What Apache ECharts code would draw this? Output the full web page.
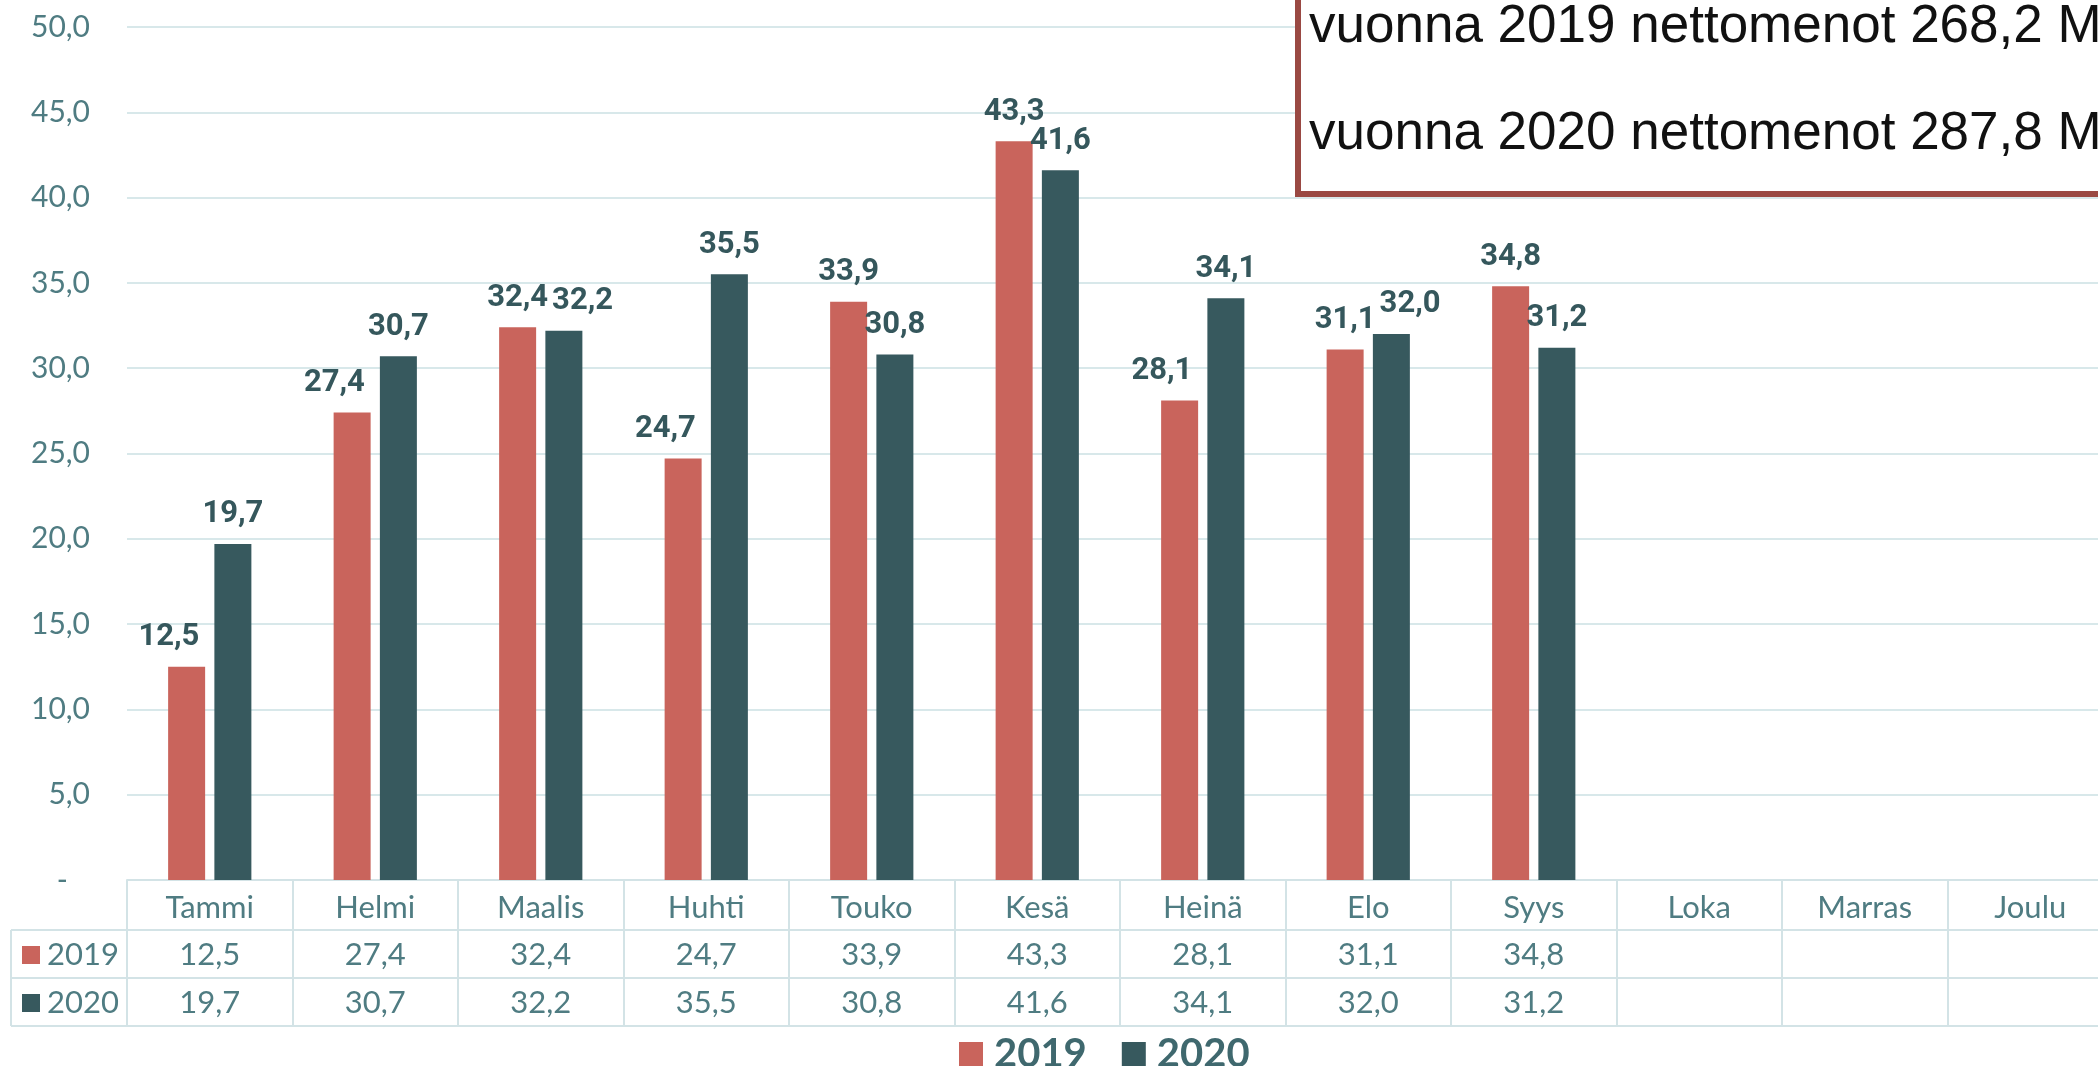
<!DOCTYPE html>
<html>
<head>
<meta charset="utf-8">
<script src="https://cdn.jsdelivr.net/npm/echarts@6/dist/echarts.min.js"></script>
<style>
  html, body { margin: 0; padding: 0; background: #fff; }
  #chart { width: 2098px; height: 1066px; }
</style>
</head>
<body>
<div id="chart"></div>
<script>
// kuukaudet
const months = ["Tammi", "Helmi", "Maalis", "Huhti", "Touko", "Kesä", "Heinä", "Elo", "Syys", "Loka", "Marras", "Joulu"];
const values2019 = [12.5, 27.4, 32.4, 24.7, 33.9, 43.3, 28.1, 31.1, 34.8];
const values2020 = [19.7, 30.7, 32.2, 35.5, 30.8, 41.6, 34.1, 32.0, 31.2];
const seriesNames = ["2019", "2020"];
const yTicks = [0, 50, 5]; // min, max, interval
const noteLines = ["vuonna 2019 nettomenot 268,2 M€", "vuonna 2020 nettomenot 287,8 M€"];

const RED = "#c9645c";
const TEAL = "#37595e";
const TEXT = "#4f7c82";
const LINE = "#d3e3e6";
const FONT = "Lato, 'Noto Sans', sans-serif";
const NOTE_FONT = "53px 'Liberation Sans', Arial, sans-serif";
const LABEL_DIST = 14;

const fmt = (v) => (v === undefined || v === null ? "" : v.toFixed(1).replace(".", ","));

// push value labels sideways when they would hit the neighbour bar or label (like Excel does)
const labelShift = (params) => {
  const i = params.dataIndex;
  const s = params.seriesIndex;
  const r = params.rect;
  const L = params.labelRect;
  const w = r.width;
  const gap = w * 0.25;
  const top = Math.min(r.y, r.y + r.height);
  const base = Math.max(r.y, r.y + r.height);
  const value = (s === 0 ? values2019 : values2020)[i];
  const scale = (base - top) / value;
  const x19 = s === 0 ? r.x : r.x - w - gap;
  const x20 = x19 + w + gap;
  const top19 = base - values2019[i] * scale;
  const top20 = base - values2020[i] * scale;

  let l19 = x19 + w / 2 - L.width / 2;
  const bottom19 = top19 - LABEL_DIST;
  const upper19 = bottom19 - L.height;
  if (top20 < bottom19 - 4 && l19 + L.width > x20 - 15) l19 = x20 - 15 - L.width;
  if (s === 0) return { dx: l19 - L.x };

  let l20 = x20 + w / 2 - L.width / 2;
  const bottom20 = top20 - LABEL_DIST;
  const upper20 = bottom20 - L.height;
  const vOverlap = upper20 < bottom19 - 6 && bottom20 > upper19 + 6;
  if (vOverlap && l20 < l19 + L.width + 4) l20 = l19 + L.width + 4;
  return { dx: l20 - L.x };
};

const chart = echarts.init(document.getElementById("chart"));

// table rows below the plot: one x axis per row
const tableAxis = (offset, values, margin) => ({
  type: "category",
  data: months,
  position: "bottom",
  offset: offset,
  axisLine: { show: true, lineStyle: { color: LINE, width: 2 } },
  axisTick: { show: false },
  axisLabel: values
    ? {
        show: true,
        interval: 0,
        margin: margin,
        fontFamily: FONT,
        fontSize: 31,
        color: TEXT,
        formatter: (v, i) => fmt(values[i]),
      }
    : { show: false },
});

const tableLine = (x1, y1, x2, y2) => ({
  type: "line",
  shape: { x1, y1, x2, y2 },
  style: { stroke: LINE, lineWidth: 2 },
});

const option = {
  backgroundColor: "#fff",
  animation: false,
  grid: {
    left: 127,
    top: 27,
    width: 1986,
    bottom: 186,
    outerBoundsMode: "none",
    containLabel: false,
  },
  legend: {
    left: 954,
    top: 1029,
    icon: "rect",
    itemWidth: 24,
    itemHeight: 24,
    itemGap: 35,
    data: seriesNames,
    textStyle: {
      fontFamily: FONT,
      fontSize: 40,
      fontWeight: "bold",
      color: "#3f686e",
      padding: [0, 0, 0, 6],
    },
  },
  xAxis: [
    {
      type: "category",
      data: months,
      position: "bottom",
      axisLine: { show: true, lineStyle: { color: LINE, width: 2 } },
      axisTick: {
        show: true,
        interval: 0,
        inside: false,
        length: 146,
        lineStyle: { color: LINE, width: 2 },
      },
      axisLabel: {
        interval: 0,
        margin: 12,
        fontFamily: FONT,
        fontSize: 31,
        color: TEXT,
      },
    },
    tableAxis(50, values2019, 9),
    tableAxis(98, values2020, 9),
    tableAxis(146, null, 0),
  ],
  yAxis: {
    type: "value",
    min: yTicks[0],
    max: yTicks[1],
    interval: yTicks[2],
    axisLine: { show: false },
    axisTick: { show: false },
    splitLine: { lineStyle: { color: "#d8e8ea", width: 2 } },
    axisLabel: {
      margin: 37,
      fontFamily: FONT,
      fontSize: 30,
      color: TEXT,
      formatter: (v) => (v === 0 ? "{z|-}" : fmt(v)),
      rich: {
        z: { fontFamily: FONT, fontSize: 30, color: TEXT, padding: [0, 22, 0, 0] },
      },
    },
  },
  series: [
    { name: seriesNames[0], data: values2019, color: RED },
    { name: seriesNames[1], data: values2020, color: TEAL },
  ].map((s) => ({
    type: "bar",
    name: s.name,
    data: s.data,
    xAxisIndex: 0,
    barWidth: 37,
    barGap: "25%",
    itemStyle: { color: s.color },
    labelLayout: labelShift,
    label: {
      show: true,
      position: "top",
      distance: LABEL_DIST,
      fontFamily: "Roboto, sans-serif",
      fontWeight: "bold",
      fontSize: 31,
      color: "#35575c",
      formatter: (p) => fmt(p.value),
    },
  })),
  graphic: [
    // legend column of the data table
    tableLine(11, 930, 127, 930),
    tableLine(11, 978, 127, 978),
    tableLine(11, 1026, 127, 1026),
    tableLine(11, 930, 11, 1026),
    { type: "rect", shape: { x: 22, y: 946, width: 18, height: 18 }, style: { fill: RED } },
    { type: "rect", shape: { x: 22, y: 994, width: 18, height: 18 }, style: { fill: TEAL } },
    {
      type: "text",
      x: 47,
      y: 955,
      style: { text: seriesNames[0], font: "31px " + FONT, fill: TEXT, verticalAlign: "middle" },
    },
    {
      type: "text",
      x: 47,
      y: 1003,
      style: { text: seriesNames[1], font: "31px " + FONT, fill: TEXT, verticalAlign: "middle" },
    },
    // note box in the upper right corner
    {
      type: "rect",
      z: 100,
      shape: { x: 1298, y: -20, width: 900, height: 214 },
      style: { fill: "#fff", stroke: "#9a4943", lineWidth: 6 },
    },
    {
      type: "text",
      z: 101,
      x: 1309,
      y: 27,
      style: { text: noteLines[0], font: NOTE_FONT, fill: "#111", verticalAlign: "middle" },
    },
    {
      type: "text",
      z: 101,
      x: 1309,
      y: 134,
      style: { text: noteLines[1], font: NOTE_FONT, fill: "#111", verticalAlign: "middle" },
    },
  ],
};

chart.setOption(option);
</script>
</body>
</html>
